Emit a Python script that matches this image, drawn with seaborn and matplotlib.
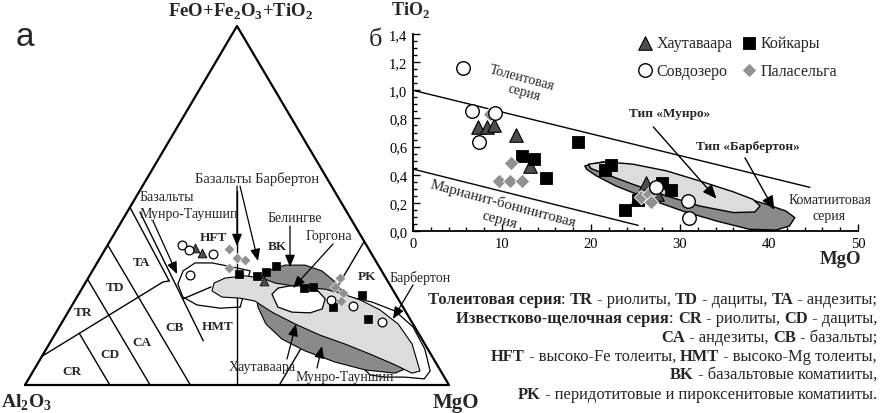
"""Jensen cation plot (a) and TiO2-MgO diagram (b) for komatiite-basalt suites."""

import numpy as np
import pandas as pd
import matplotlib
matplotlib.use("Agg")
import matplotlib.pyplot as plt
import seaborn as sns
from matplotlib.ticker import MultipleLocator, FuncFormatter

sns.set_theme(style="white")
plt.rcParams['font.family'] = ['Liberation Serif', 'DejaVu Serif']
plt.rcParams['mathtext.fontset'] = 'custom'
plt.rcParams['mathtext.rm'] = 'Liberation Serif'
plt.rcParams['mathtext.bf'] = 'Liberation Serif:bold'

W, H = 883, 414

# ---- panel a: ternary data, (FeO+Fe2O3+TiO2 %, MgO %), Al2O3 is the rest
tern_circ_fe = [39.1, 37.5, 36.4, 30.6, 23.8, 22.1, 17.5]
tern_circ_mg = [17.4, 19.9, 26.2, 23.6, 60.3, 66.3, 75.4]
tern_tri_fe = [38.3, 36.8, 29.0]
tern_tri_mg = [20.9, 23.3, 41.9]
tern_dia_fe = [37.9, 35.4, 34.8, 32.6, 29.8, 27.3, 25.6, 23.4]
tern_dia_mg = [29.2, 32.3, 34.5, 31.8, 59.4, 59.5, 62.2, 62.8]
tern_sq_fe = [30.9, 30.4, 31.6, 33.1, 27.0, 27.2, 25.1, 21.6, 18.4]
tern_sq_mg = [35.1, 39.5, 41.0, 42.6, 52.4, 54.4, 66.9, 61.9, 71.7]

# field boundaries (Fe, Mg)
line_thol = [(8, 0), (28.7, 18.2), (29.0, 19.5)]
line_tr_td = [(29.5, 0), (0, 29.5)]
line_cr_cd = [(14.4, 5.6), (0, 20)]
line_td_ta = [(39, 0), (0, 39)]
line_ta_hft = [(49.5, 0), (29.0, 19.5)]
line_cb_hmt = [(48.2, 3.0), (12.3, 35.9)]
line_hmt_bk = [(0, 50), (54, 23)]
line_bk_pk = [(40, 60), (0, 60)]

# komatiite fields (Fe, Mg)
field_dark = [(29.0, 40.5), (31.8, 41.4), (33.4, 44.6), (33.4, 49.3), (31.8, 54.1),
              (28.7, 58.8), (25.3, 62.8), (18.4, 74.5), (11.4, 83.9), (5.0, 88.3),
              (3.3, 85.6), (4.2, 78.1), (6.4, 69.9), (9.5, 61.3), (12.8, 54.2),
              (17.0, 48.3), (21.7, 44.1), (25.3, 41.8)]
field_light = [(26.2, 31.0), (28.4, 30.4), (29.8, 32.3), (30.4, 36.7), (29.8, 41.0),
               (28.4, 44.8), (27.3, 51.2), (26.7, 57.4), (25.6, 61.5), (23.7, 67.2),
               (20.9, 73.3), (17.0, 79.5), (11.4, 85.6), (3.9, 91.2), (3.3, 89.6),
               (5.6, 84.5), (8.6, 77.1), (11.4, 69.8), (13.9, 62.6), (17.0, 55.2),
               (20.3, 48.1), (23.4, 42.5), (24.2, 38.6), (24.5, 34.2)]
field_gorgona = [(25.3, 45.6), (27.0, 46.2), (27.6, 48.7), (27.6, 52.2), (26.2, 56.0),
                 (24.0, 58.8), (21.2, 59.5), (20.1, 57.2), (20.3, 52.8), (21.7, 48.8)]
field_munro_bas = [(31.8, 37.2), (32.9, 32.4), (34.0, 27.1), (34.0, 23.1), (31.8, 21.4),
                   (28.1, 22.0), (24.5, 25.0), (22.3, 29.4), (21.4, 35.3), (21.7, 39.9)]
munro_bas_link = [(24.0, 25.3), (27.3, 30.2)]
field_barberton = [(24.5, 64.4), (23.1, 70.3), (20.6, 77.0), (16.2, 83.4), (10.0, 89.3),
                   (3.9, 93.6), (1.7, 93.3), (2.2, 88.5), (2.2, 83.8), (2.8, 80.0), (5.0, 77.0)]

# ---- panel b: TiO2 vs MgO
mgo_haut = [7.3, 8.3, 9.1, 11.6, 13.2, 26.2, 25.2, 27.4]
tio2_haut = [0.74, 0.74, 0.75, 0.68, 0.46, 0.34, 0.23, 0.26]
mgo_koik = [12.3, 13.6, 14.9, 18.5, 21.6, 22.3, 23.8, 28.0, 29.0, 25.3]
tio2_koik = [0.53, 0.51, 0.38, 0.63, 0.43, 0.47, 0.15, 0.34, 0.29, 0.22]
mgo_sovd = [5.6, 6.6, 9.25, 7.4, 27.3, 30.9, 31.0]
tio2_sovd = [1.16, 0.85, 0.84, 0.63, 0.31, 0.21, 0.09]
mgo_pal = [8.6, 11.0, 9.7, 10.9, 12.3, 25.6, 26.5, 26.7]
tio2_pal = [0.83, 0.485, 0.355, 0.355, 0.355, 0.245, 0.26, 0.205]

thol_line_x, thol_line_y = [0, 44.6], [1.0, 0.31]
bon_line_x, bon_line_y = [0, 25.3], [0.44, 0.04]
barb_ell_x = [19.3, 21.3, 24.7, 28.5, 32.2, 36.0, 39.7, 41.9, 42.9, 42.3, 40.8, 37.8,
              34.1, 30.3, 26.6, 22.8, 20.6, 19.5]
barb_ell_y = [0.463, 0.491, 0.463, 0.403, 0.332, 0.261, 0.190, 0.142, 0.095, 0.036,
              0.007, 0.012, 0.071, 0.142, 0.225, 0.320, 0.392, 0.439]
munro_ell_x = [19.7, 21.7, 24.7, 28.5, 32.2, 36.0, 38.2, 39.0, 38.4, 36.0, 32.2, 28.5,
               24.7, 21.7, 20.0]
munro_ell_y = [0.475, 0.491, 0.475, 0.427, 0.356, 0.278, 0.225, 0.178, 0.135, 0.131,
               0.178, 0.249, 0.332, 0.403, 0.444]

DARK = "#8a8a8a"
LIGHT = "#dcdcdc"
TRI = "#4d4d4d"
DIA = "#919191"


def fxy(px, py):
    return (px / W, 1 - py / H)


def tern(pairs_or_fe, mg=None):
    if mg is None:
        fe = np.array([p[0] for p in pairs_or_fe], float)
        mg = np.array([p[1] for p in pairs_or_fe], float)
    else:
        fe = np.asarray(pairs_or_fe, float)
        mg = np.asarray(mg, float)
    return (mg + fe / 2) / 100, fe / 100


def pointer(ax, start, end):
    ax.annotate("", xy=fxy(*end), xytext=fxy(*start), xycoords="figure fraction",
                textcoords="figure fraction",
                arrowprops=dict(arrowstyle="-|>,head_length=0.6,head_width=0.25",
                                color="black", lw=0.9, shrinkA=0, shrinkB=0))


def label(fig, px, py, s, size=10, bold=False, ha="center", **kw):
    fig.text(*fxy(px, py), s, fontsize=size, ha=ha, va="center",
             fontweight="bold" if bold else "normal", **kw)


def draw_ternary(fig):
    ax = fig.add_axes([25 / W, 28 / H, 424 / W, 359 / H])
    ax.set_xlim(0, 1)
    ax.set_ylim(0, 1)
    ax.axis("off")

    corners = [(0, 0), (0, 100), (100, 0), (0, 0)]
    cx, cy = tern(corners)
    ax.plot(cx, cy, color="black", lw=1.6, clip_on=False, zorder=5)

    for ln in [line_thol, line_tr_td, line_cr_cd, line_td_ta, line_ta_hft,
               line_cb_hmt, line_hmt_bk, line_bk_pk, munro_bas_link]:
        x, y = tern(ln)
        ax.plot(x, y, color="black", lw=1.0, zorder=1)

    x, y = tern(field_munro_bas)
    ax.fill(x, y, facecolor="none", edgecolor="black", lw=0.9, zorder=1.5)
    x, y = tern(field_barberton)
    ax.fill(x, y, facecolor="white", edgecolor="black", lw=0.9, zorder=2)
    x, y = tern(field_dark)
    ax.fill(x, y, facecolor=DARK, edgecolor="black", lw=0.8, zorder=2.2)
    x, y = tern(field_light)
    ax.fill(x, y, facecolor=LIGHT, edgecolor="black", lw=0.8, zorder=2.4)
    x, y = tern(field_gorgona)
    ax.fill(x, y, facecolor="white", edgecolor="black", lw=0.9, zorder=2.6)

    x, y = tern(tern_dia_fe, tern_dia_mg)
    sns.scatterplot(x=x, y=y, marker="D", s=30, color=DIA, edgecolor="white",
                    linewidth=0.4, ax=ax, zorder=4)
    x, y = tern(tern_sq_fe, tern_sq_mg)
    sns.scatterplot(x=x, y=y, marker="s", s=30, color="black", edgecolor="black",
                    linewidth=0.5, ax=ax, zorder=4)
    x, y = tern(tern_tri_fe, tern_tri_mg)
    sns.scatterplot(x=x, y=y, marker="^", s=40, color=TRI, edgecolor="black",
                    linewidth=0.6, ax=ax, zorder=4)
    x, y = tern(tern_circ_fe, tern_circ_mg)
    sns.scatterplot(x=x, y=y, marker="o", s=40, color="white", edgecolor="black",
                    linewidth=0.9, ax=ax, zorder=4)
    return ax


def draw_tio2(fig):
    ax = fig.add_axes([413 / W, (H - 232) / H, 445 / W, 197 / H])
    ax.fill(barb_ell_x, barb_ell_y, facecolor=DARK, edgecolor="black", lw=1.0, zorder=1)
    ax.fill(munro_ell_x, munro_ell_y, facecolor=LIGHT, edgecolor="black", lw=1.0, zorder=1.2)
    ax.plot(thol_line_x, thol_line_y, color="black", lw=1.0)
    ax.plot(bon_line_x, bon_line_y, color="black", lw=1.0)

    df = pd.concat([
        pd.DataFrame({"MgO": mgo_haut, "TiO2": tio2_haut, "suite": "Хаутаваара"}),
        pd.DataFrame({"MgO": mgo_koik, "TiO2": tio2_koik, "suite": "Койкары"}),
        pd.DataFrame({"MgO": mgo_pal, "TiO2": tio2_pal, "suite": "Паласельга"}),
        pd.DataFrame({"MgO": mgo_sovd, "TiO2": tio2_sovd, "suite": "Совдозеро"}),
    ])
    styles = {
        "Хаутаваара": dict(marker="^", s=95, color=TRI, edgecolor="black", linewidth=0.8),
        "Койкары": dict(marker="s", s=85, color="black", edgecolor="black", linewidth=0.6),
        "Паласельга": dict(marker="D", s=55, color=DIA, edgecolor="white", linewidth=0.6),
        "Совдозеро": dict(marker="o", s=95, color="white", edgecolor="black", linewidth=1.0),
    }
    for suite, st in styles.items():
        sub = df[df["suite"] == suite]
        sns.scatterplot(data=sub, x="MgO", y="TiO2", ax=ax, zorder=3, label=suite, **st)

    h, l = ax.get_legend_handles_labels()
    handles = dict(zip(l, h))
    order = ["Хаутаваара", "Совдозеро", "Койкары", "Паласельга"]
    ax.legend([handles[k] for k in order], order, ncol=2, loc="upper left",
              bbox_to_anchor=(0.475, 1.05), frameon=False, fontsize=11.5,
              handletextpad=0.1, columnspacing=0.45, labelspacing=0.7,
              handlelength=1.2, borderpad=0.2)

    ax.set_xlim(0, 50)
    ax.set_ylim(0, 1.4)
    ax.set_xlabel("")
    ax.set_ylabel("")
    ax.xaxis.set_major_locator(MultipleLocator(10))
    ax.xaxis.set_minor_locator(MultipleLocator(2))
    ax.yaxis.set_major_locator(MultipleLocator(0.2))
    ax.yaxis.set_minor_locator(MultipleLocator(0.05))
    ax.yaxis.set_major_formatter(FuncFormatter(lambda v, p: f"{v:.1f}".replace(".", ",")))
    ax.tick_params(which="both", direction="in", width=1.0, labelsize=10.5, pad=4,
                   bottom=True, left=True, colors="black")
    ax.tick_params(which="major", length=5)
    ax.tick_params(which="minor", length=3)
    for side in ["top", "right"]:
        ax.spines[side].set_visible(False)
    for side in ["left", "bottom"]:
        ax.spines[side].set_color("black")
        ax.spines[side].set_linewidth(1.3)
    ax.set_facecolor("none")

    ax.text(12.2, 1.09, "Толеитовая", rotation=-15, fontsize=10, ha="center", va="center")
    ax.text(12.5, 0.985, "серия", rotation=-15, fontsize=10, ha="center", va="center")
    ax.text(10.1, 0.20, "Марианит-бонинитовая", rotation=-15, fontsize=10.8, ha="center", va="center")
    ax.text(9.7, 0.085, "серия", rotation=-15, fontsize=10.8, ha="center", va="center")
    ax.text(46.8, 0.225, "Коматиитовая", fontsize=10, ha="center", va="center", clip_on=False)
    ax.text(46.8, 0.107, "серия", fontsize=10, ha="center", va="center", clip_on=False)
    ax.text(28.8, 0.84, "Тип «Мунро»", fontsize=9.5, fontweight="bold", ha="center", va="center")
    ax.text(37.6, 0.605, "Тип «Барбертон»", fontsize=9.5, fontweight="bold", ha="center", va="center")
    arrow = dict(arrowstyle="-|>,head_length=0.7,head_width=0.3", color="black", lw=1.0,
                 shrinkA=0, shrinkB=0)
    ax.annotate("", xy=(34.1, 0.23), xytext=(27.0, 0.74), arrowprops=arrow)
    ax.annotate("", xy=(40.6, 0.15), xytext=(37.3, 0.52), arrowprops=arrow)
    return ax


def rich_line(fig, x_right, y, parts, size=11.9):
    renderer = fig.canvas.get_renderer()
    x = x_right
    for s, bold in reversed(parts):
        t = fig.text(*fxy(x, y), s, fontsize=size, ha="right", va="center",
                     fontweight="bold" if bold else "normal")
        x -= t.get_window_extent(renderer).width


def main():
    fig = plt.figure(figsize=(W / 100, H / 100), dpi=100)
    fig.patch.set_facecolor("white")
    draw_ternary(fig)
    draw_tio2(fig)

    # axis titles and panel letters
    label(fig, 241, 12, r"FeO+Fe$_\mathbf{2}$O$_\mathbf{3}$+TiO$_\mathbf{2}$", size=13.5, bold=True)
    label(fig, 26, 403, r"Al$_\mathbf{2}$O$_\mathbf{3}$", size=14, bold=True)
    label(fig, 456, 403, "MgO", size=15, bold=True)
    label(fig, 840, 260, "MgO", size=13.5, bold=True)
    label(fig, 410, 10, r"TiO$_\mathbf{2}$", size=13, bold=True)
    label(fig, 25, 38, "а", size=24, family="Liberation Sans")
    label(fig, 376, 40, "б", size=19)

    # Jensen fields
    for s, px, py in [("TA", 141.7, 263), ("TD", 115, 288), ("TR", 83, 313), ("CR", 72, 372),
                      ("CD", 110, 355), ("CA", 142, 343), ("CB", 175, 328), ("HMT", 218, 327),
                      ("HFT", 213, 238), ("BK", 277, 247), ("PK", 367, 277)]:
        label(fig, px, py, s, size=9.5, bold=True)

    label(fig, 257, 179, "Базальты Барбертон", size=10.5)
    label(fig, 140, 198, "Базальты", ha="left")
    label(fig, 140, 215, "Мунро-Тауншип", ha="left")
    label(fig, 295, 219, "Белингве")
    label(fig, 329, 237, "Горгона")
    label(fig, 390, 278, "Барбертон", ha="left")
    label(fig, 262, 368, "Хаутаваара")
    label(fig, 345, 378, "Мунро-Тауншип")

    ax0 = fig.axes[0]
    for a, b in [((153, 222), (177, 275)), ((237, 187), (237, 247)), ((240, 187), (258, 262)),
                 ((290, 227), (290, 268)), ((333, 245), (293, 289)), ((413, 286), (393, 320)),
                 ((287, 360), (296, 325)), ((317, 369), (322, 347))]:
        pointer(ax0, a, b)

    B, R = True, False
    rich_line(fig, 877, 300, [("Толеитовая серия", B), (": ", R), ("TR", B), (" - риолиты, ", R),
                              ("TD", B), (" - дациты, ", R), ("TA", B), (" - андезиты;", R)])
    rich_line(fig, 877, 319, [("Известково-щелочная серия", B), (": ", R), ("CR", B),
                              (" - риолиты, ", R), ("CD", B), (" - дациты,", R)])
    rich_line(fig, 877, 338, [("CA", B), (" - андезиты, ", R), ("CB", B), (" - базальты;", R)])
    rich_line(fig, 877, 357, [("HFT", B), (" - высоко-Fe толеиты, ", R), ("HMT", B),
                              (" - высоко-Mg толеиты,", R)])
    rich_line(fig, 877, 375, [("BK", B), (" - базальтовые коматииты,", R)])
    rich_line(fig, 877, 395, [("PK", B), (" - перидотитовые и пироксенитовые коматииты.", R)])

    fig.savefig("out.png", dpi=100)
    plt.close(fig)


if __name__ == "__main__":
    main()
